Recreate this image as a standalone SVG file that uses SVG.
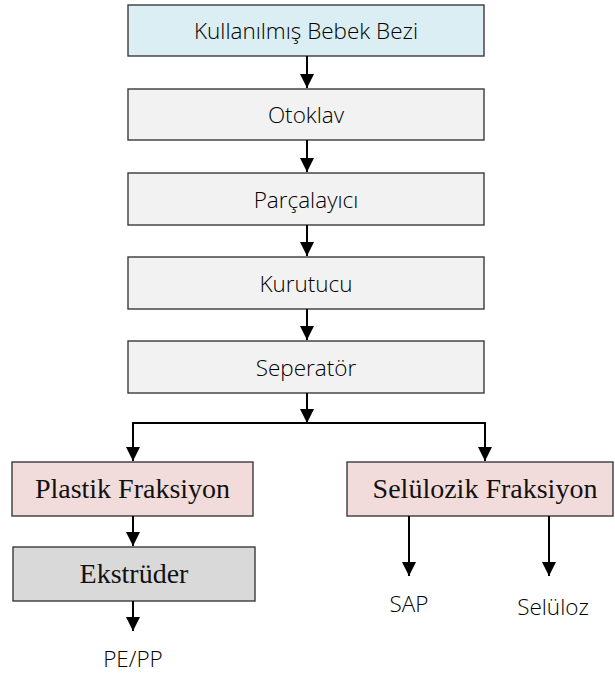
<svg xmlns="http://www.w3.org/2000/svg" width="615" height="678" viewBox="0 0 615 678">
<defs>
<marker id="ah" markerUnits="userSpaceOnUse" markerWidth="14" markerHeight="14" refX="14" refY="7" orient="auto" viewBox="0 0 14 14">
<path d="M0,0 L14,7 L0,14 Z" fill="#000"/>
</marker>
<style>
.box{stroke:#3a3a3a;stroke-width:1.4}
.blue{fill:#DAEEF3}
.grey{fill:#F2F2F2}
.pink{fill:#F2DCDB}
.dark{fill:#D9D9D9}
.sans{font-family:"Open Sans","Noto Sans","DejaVu Sans",sans-serif;font-weight:300;font-size:22.5px;fill:#000;text-anchor:middle}
.serif{font-family:"Liberation Serif","Times New Roman",serif;font-size:28px;fill:#111;text-anchor:middle}
.arr{fill:none;stroke:#000;stroke-width:2;marker-end:url(#ah)}
</style>
</defs>
<rect width="615" height="678" fill="#fff"/>
<g id="n1"><rect class="box blue" x="128" y="5" width="356" height="51"/><text class="sans" x="306" y="39">Kullanılmış Bebek Bezi</text></g>
<g id="n2"><rect class="box grey" x="128" y="89" width="356" height="51"/><text class="sans" x="306" y="123">Otoklav</text></g>
<g id="n3"><rect class="box grey" x="128" y="173" width="356" height="52"/><text class="sans" x="306" y="208">Parçalayıcı</text></g>
<g id="n4"><rect class="box grey" x="128" y="257" width="356" height="52"/><text class="sans" x="306" y="292">Kurutucu</text></g>
<g id="n5"><rect class="box grey" x="128" y="341" width="356" height="52"/><text class="sans" x="306" y="376">Seperatör</text></g>
<g id="n6"><rect class="box pink" x="12" y="462" width="241" height="54"/><text class="serif" x="132.5" y="498">Plastik Fraksiyon</text></g>
<g id="n7"><rect class="box pink" x="347" y="462" width="266" height="54"/><text class="serif" x="485" y="498">Selülozik Fraksiyon</text></g>
<g id="n8"><rect class="box dark" x="13" y="547" width="242" height="54"/><text class="serif" x="134" y="583">Ekstrüder</text></g>
<g id="n9"><text class="sans" x="133" y="667">PE/PP</text></g>
<g id="n10"><text class="sans" x="409" y="612">SAP</text></g>
<g id="n11"><text class="sans" x="553" y="615">Selüloz</text></g>
<g id="connectors">
<line class="arr" x1="307" y1="56" x2="307" y2="88"/>
<line class="arr" x1="307" y1="140" x2="307" y2="172"/>
<line class="arr" x1="307" y1="225" x2="307" y2="256"/>
<line class="arr" x1="307" y1="309" x2="307" y2="340"/>
<line class="arr" x1="307" y1="393" x2="307" y2="423"/>
<polyline class="arr" points="307,423 133,423 133,461"/>
<polyline class="arr" points="307,423 485,423 485,461"/>
<line class="arr" x1="133" y1="516" x2="133" y2="546"/>
<line class="arr" x1="133" y1="601" x2="133" y2="631"/>
<line class="arr" x1="409" y1="516" x2="409" y2="576"/>
<line class="arr" x1="549" y1="516" x2="549" y2="576"/>
</g>
</svg>
